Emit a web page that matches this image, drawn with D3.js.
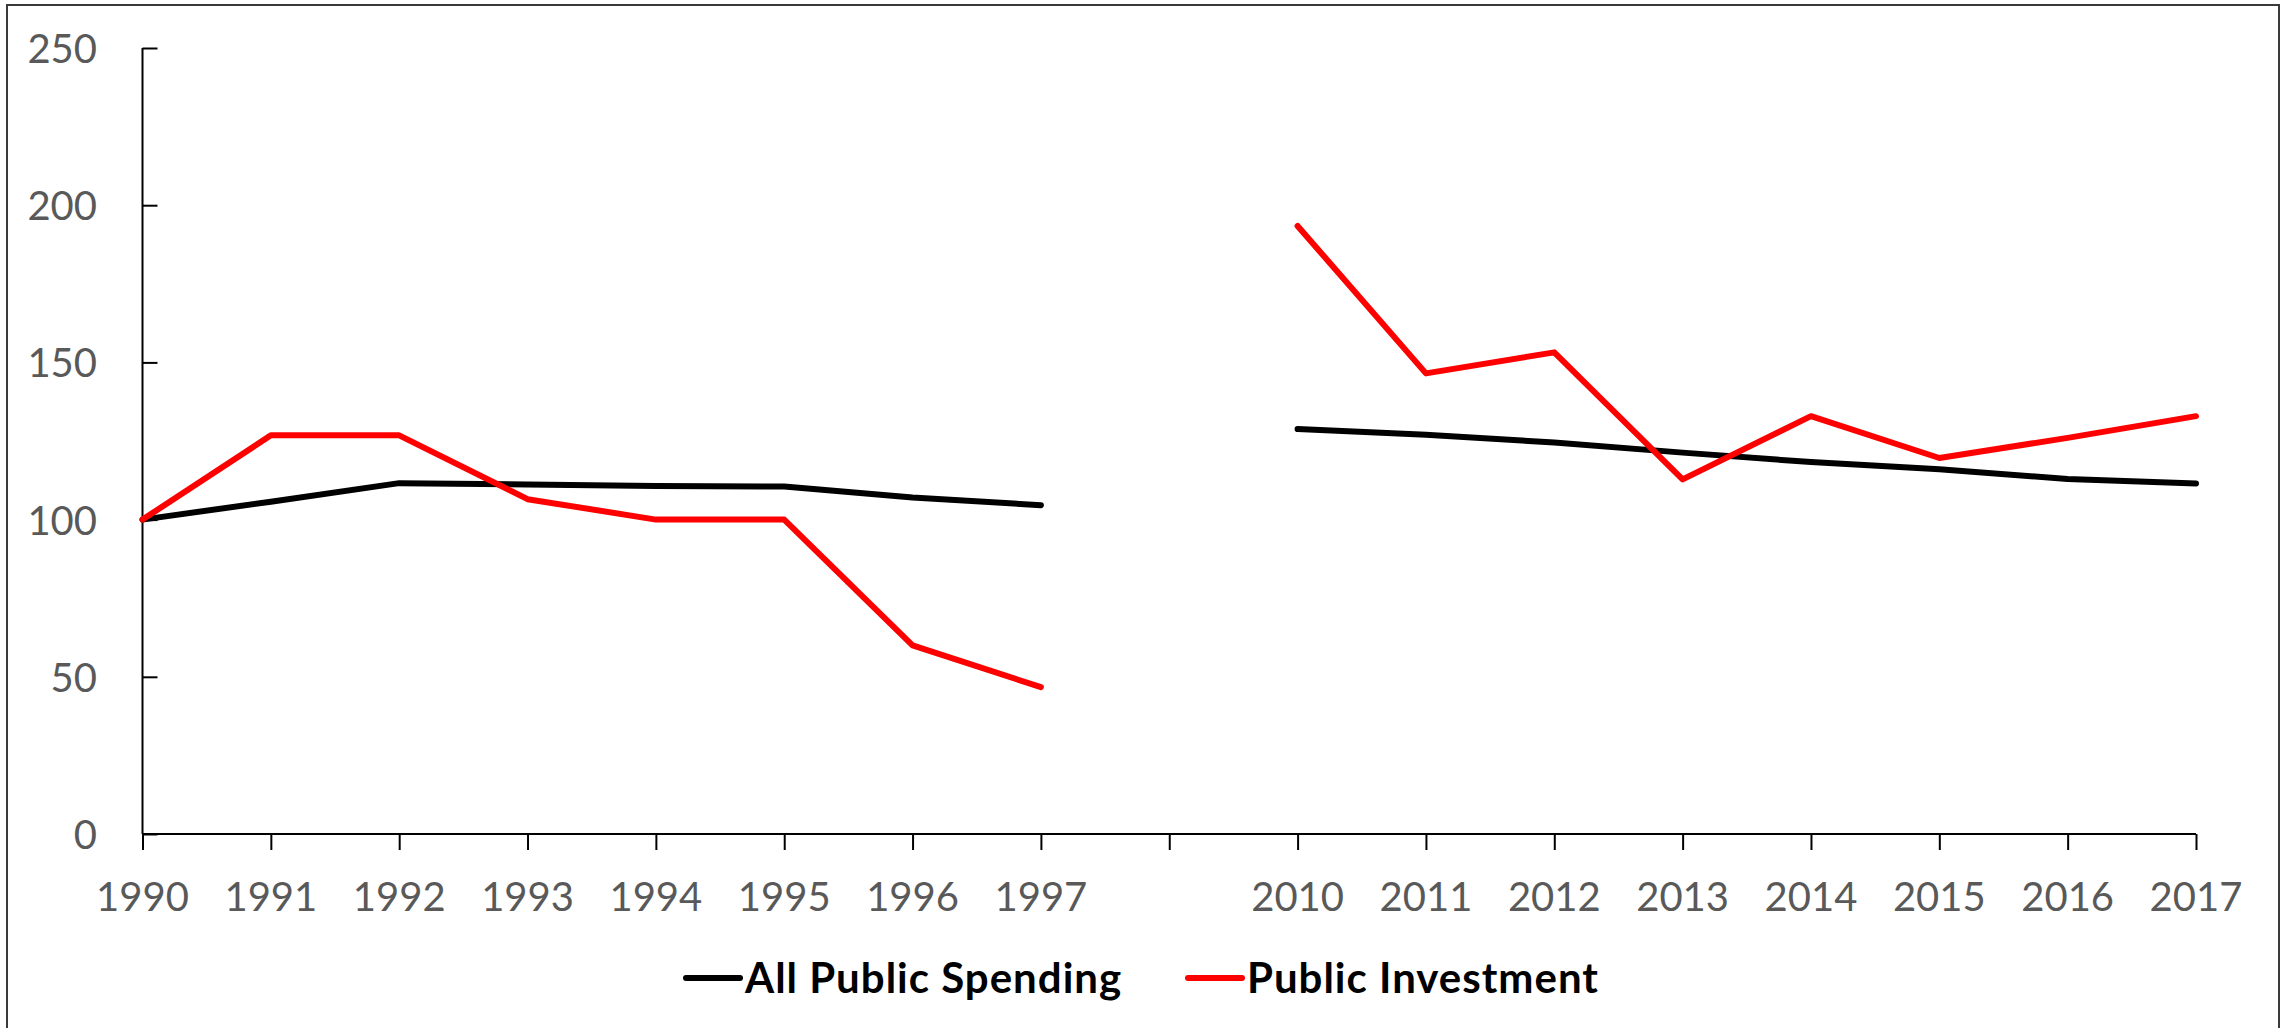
<!DOCTYPE html>
<html>
<head>
<meta charset="utf-8">
<script src="https://cdn.jsdelivr.net/npm/d3@7"></script>
<style>
  body { margin: 0; background: #fff; }
  svg { display: block; font-family: Lato, "Open Sans", sans-serif; }
</style>
</head>
<body>
<div id="chart"></div>
<script>
// Chart data (index 8 is the gap between the two periods)
const years = ["1990", "1991", "1992", "1993", "1994", "1995", "1996", "1997", "",
               "2010", "2011", "2012", "2013", "2014", "2015", "2016", "2017"];
const allSpending = [100, 105.7, 111.6, 111.2, 110.7, 110.5, 107, 104.6, null,
                     128.8, 127, 124.5, 121.3, 118.3, 116, 112.9, 111.5];
const investment = [100, 126.8, 126.8, 106.5, 100, 100, 60, 46.7, null,
                    193.4, 146.5, 153.2, 112.8, 132.9, 119.6, 126, 132.9];
const yTicks = [0, 50, 100, 150, 200, 250];
const seriesNames = ["All Public Spending", "Public Investment"];
const seriesColors = ["#000000", "#ff0000"];

const width = 2282, height = 1028;
const svg = d3.select("#chart").append("svg")
    .attr("width", width)
    .attr("height", height);

// outer frame
svg.append("rect")
    .attr("x", 7).attr("y", 5)
    .attr("width", 2272).attr("height", 1040)
    .attr("fill", "none")
    .attr("stroke", "#3a3a3a")
    .attr("stroke-width", 2);

const x = d3.scalePoint()
    .domain(d3.range(years.length))
    .range([142.5, 2196]);

const y = d3.scaleLinear()
    .domain([0, 250])
    .range([834, 48]);

// y axis: ticks point inward
const yAxis = svg.append("g")
    .attr("transform", `translate(${x(0)},0)`)
    .call(d3.axisRight(y).tickValues(yTicks).tickSize(15).tickFormat(""));
yAxis.select(".domain").attr("stroke", "#000").attr("stroke-width", 2).attr("d", `M0,${y(0)}V${y(250)}`);
yAxis.selectAll(".tick line").attr("stroke", "#000").attr("stroke-width", 2);

svg.append("g").selectAll("text")
    .data(yTicks)
    .join("text")
    .attr("x", 97)
    .attr("y", d => y(d) + 15)
    .attr("text-anchor", "end")
    .attr("font-size", 40)
    .attr("fill", "#595959")
    .text(d => d);

// x axis: ticks point outward
const xAxis = svg.append("g")
    .attr("transform", `translate(0,${y(0)})`)
    .call(d3.axisBottom(x).tickSize(16).tickFormat(""));
xAxis.select(".domain").attr("stroke", "#000").attr("stroke-width", 2).attr("d", `M${x(0)},0H${x(years.length - 1)}`);
xAxis.selectAll(".tick line").attr("stroke", "#000").attr("stroke-width", 2);

svg.append("g").selectAll("text")
    .data(years)
    .join("text")
    .attr("x", (d, i) => x(i))
    .attr("y", 911)
    .attr("text-anchor", "middle")
    .attr("font-size", 40)
    .attr("fill", "#595959")
    .text(d => d);

// lines
const line = d3.line()
    .defined(d => d[1] !== null)
    .x(d => x(d[0]))
    .y(d => y(d[1]));

[allSpending, investment].forEach((vals, k) => {
    svg.append("path")
        .datum(vals.map((v, i) => [i, v]))
        .attr("fill", "none")
        .attr("stroke", seriesColors[k])
        .attr("stroke-width", 6)
        .attr("stroke-linejoin", "round")
        .attr("stroke-linecap", "round")
        .attr("d", line);
});

// legend
const legendX = [686, 1188];
const legend = svg.append("g")
    .selectAll("g")
    .data(seriesNames)
    .join("g")
    .attr("transform", (d, i) => `translate(${legendX[i]},978)`);

legend.append("line")
    .attr("x1", 0).attr("x2", 54)
    .attr("stroke", (d, i) => seriesColors[i])
    .attr("stroke-width", 6)
    .attr("stroke-linecap", "round");

legend.append("text")
    .attr("x", 59)
    .attr("y", 15)
    .attr("font-size", 42)
    .attr("font-weight", "bold")
    .attr("letter-spacing", 1)
    .attr("fill", "#000")
    .text(d => d);
</script>
</body>
</html>
